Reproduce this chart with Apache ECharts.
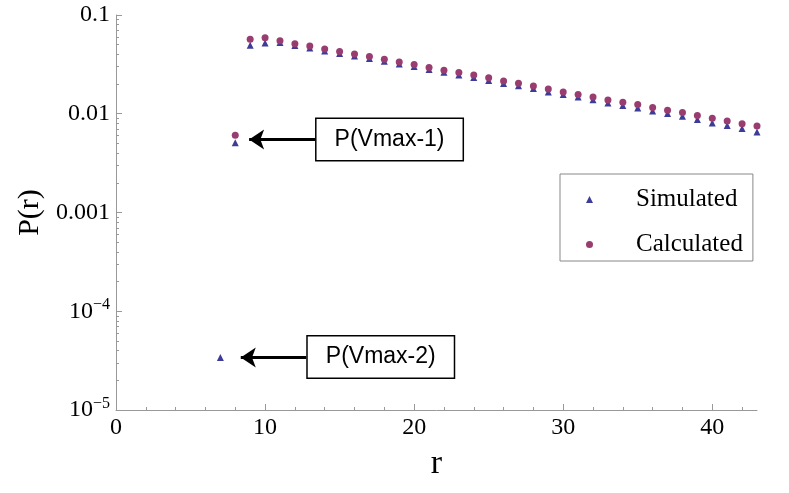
<!DOCTYPE html>
<html>
<head>
<meta charset="utf-8">
<script src="https://cdn.jsdelivr.net/npm/echarts@6/dist/echarts.min.js"></script>
<style>
  html, body { margin: 0; padding: 0; background: #fff; }
  #chart { width: 789px; height: 493px; }
</style>
</head>
<body>
<div id="chart"></div>
<script>
// r values for each series
const rSimulated = [7, 8, 9, 10, 11, 12, 13, 14, 15, 16, 17, 18, 19, 20, 21, 22, 23, 24, 25,
  26, 27, 28, 29, 30, 31, 32, 33, 34, 35, 36, 37, 38, 39, 40, 41, 42, 43];
const simulated = [3.4e-5, 0.0051, 0.0493, 0.0522, 0.0526, 0.049, 0.0464, 0.0432, 0.0407, 0.0385,
  0.0362, 0.034, 0.0319, 0.0301, 0.028, 0.0263, 0.0247, 0.0233, 0.0217, 0.0203, 0.0192, 0.018,
  0.0166, 0.0157, 0.0148, 0.0139, 0.01285, 0.0121, 0.01146, 0.01067, 0.01005, 0.00944, 0.00873,
  0.00807, 0.0076, 0.00708, 0.00654];

const rCalculated = [8, 9, 10, 11, 12, 13, 14, 15, 16, 17, 18, 19, 20, 21, 22, 23, 24, 25,
  26, 27, 28, 29, 30, 31, 32, 33, 34, 35, 36, 37, 38, 39, 40, 41, 42, 43];
const calculated = [0.00605, 0.0568, 0.059, 0.055, 0.0513, 0.0486, 0.0453, 0.0426, 0.0403, 0.0379,
  0.0356, 0.0334, 0.0315, 0.0294, 0.0275, 0.0261, 0.0247, 0.0231, 0.0215, 0.0204, 0.0191, 0.0178,
  0.0166, 0.0157, 0.0148, 0.0138, 0.0131, 0.0124, 0.01156, 0.01085, 0.0103, 0.0096, 0.009,
  0.00846, 0.00794, 0.00753];

// ticks
const xMajorTicks = [0, 10, 20, 30, 40];
const xMinorTicks = [2, 4, 6, 8, 12, 14, 16, 18, 22, 24, 26, 28, 32, 34, 36, 38, 42];
const yMajorTicks = [1e-5, 1e-4, 1e-3, 1e-2, 1e-1];
const yTickLabels = ['10{sup|−5}', '10{sup|−4}', '0.001', '0.01', '0.1'];
const yMinorTicks = [];
[1e-5, 1e-4, 1e-3, 1e-2].forEach(d => { for (let k = 2; k <= 9; k++) yMinorTicks.push(k * d); });

// annotations: label, box centre, arrow start, arrow tip (data coords)
const annotLabels = ['P(Vmax-1)', 'P(Vmax-2)'];
const annotBox = [[18.35, 0.00548], [17.76, 3.45e-5]];
const annotArrowFrom = [[13.36, 0.00548], [12.76, 3.40e-5]];
const annotArrowTo = [[8.93, 0.00548], [8.37, 3.40e-5]];

const serif = 'Liberation Serif';
const sans = 'Liberation Sans';
const axisGray = '#999';

const chart = echarts.init(document.getElementById('chart'));

const labelIdx = v => {
  const e = Math.round(Math.log10(v));
  return yTickLabels[e + 5];
};

chart.setOption({
  animation: false,
  grid: { left: 116, top: 15, width: 641, height: 395, containLabel: false },
  legend: {
    data: ['Simulated', 'Calculated'],
    orient: 'vertical',
    left: 560, top: 174,
    padding: [11, 10, 2, 26],
    borderColor: '#888', borderWidth: 1,
    itemWidth: 7, itemHeight: 7, itemGap: 16,
    textStyle: { fontFamily: serif, fontSize: 25, color: '#000', lineHeight: 29, padding: [0, 0, 0, 38] }
  },
  xAxis: [
    {
      type: 'value', min: 0, max: 43, position: 'bottom',
      name: 'r', nameLocation: 'middle', nameGap: 37,
      nameTextStyle: { fontFamily: serif, fontSize: 34, color: '#000' },
      axisLine: { onZero: false, lineStyle: { color: axisGray, width: 1 } },
      axisTick: { inside: true, length: 6, customValues: xMajorTicks, lineStyle: { color: axisGray } },
      axisLabel: { customValues: xMajorTicks, margin: 6, fontFamily: serif, fontSize: 24, color: '#000' },
      splitLine: { show: false }
    },
    {
      type: 'value', min: 0, max: 43, position: 'bottom',
      axisLine: { show: false, onZero: false },
      axisTick: { inside: true, length: 3, customValues: xMinorTicks, lineStyle: { color: axisGray } },
      axisLabel: { show: false },
      splitLine: { show: false }
    }
  ],
  yAxis: [
    {
      type: 'log', logBase: 10, min: 1e-5, max: 0.1, position: 'left',
      name: 'P(r)', nameLocation: 'middle', nameGap: 71, nameRotate: 90,
      nameTextStyle: { fontFamily: serif, fontSize: 30, color: '#000' },
      axisLine: { show: true, onZero: false, lineStyle: { color: axisGray, width: 1 } },
      axisTick: { show: true, inside: true, length: 6, customValues: yMajorTicks, lineStyle: { color: axisGray } },
      axisLabel: {
        customValues: yMajorTicks, margin: 6, fontFamily: serif, fontSize: 24, color: '#000',
        formatter: labelIdx,
        rich: { sup: { fontFamily: serif, fontSize: 16, color: '#000', padding: [0, 0, 12, 0] } }
      },
      splitLine: { show: false }
    },
    {
      type: 'log', logBase: 10, min: 1e-5, max: 0.1, position: 'left',
      axisLine: { show: false, onZero: false },
      axisTick: { show: true, inside: true, length: 3, customValues: yMinorTicks, lineStyle: { color: axisGray } },
      axisLabel: { show: false },
      splitLine: { show: false }
    }
  ],
  series: [
    {
      name: 'Simulated', type: 'scatter', symbol: 'triangle', symbolSize: 7,
      itemStyle: { color: '#3D3D99', opacity: 1 },
      data: rSimulated.map((r, i) => [r, simulated[i]]),
      markLine: {
        silent: true, animation: false,
        symbol: ['none', 'arrow'], symbolSize: 15,
        lineStyle: { color: '#000', width: 3, type: 'solid' },
        label: { show: false },
        data: annotArrowFrom.map((p, i) => [{ coord: p }, { coord: annotArrowTo[i] }])
      },
      markPoint: {
        silent: true, animation: false,
        symbol: 'circle', symbolSize: 1,
        itemStyle: { color: 'rgba(0,0,0,0)' },
        label: {
          show: true, position: 'inside', fontFamily: sans, fontSize: 23, color: '#000',
          width: 146, height: 41, lineHeight: 41, align: 'center', verticalAlign: 'middle',
          backgroundColor: '#fff', borderColor: '#000', borderWidth: 1.5,
          formatter: p => p.name
        },
        data: annotBox.map((p, i) => ({ name: annotLabels[i], coord: p }))
      }
    },
    {
      name: 'Calculated', type: 'scatter', symbol: 'circle', symbolSize: 7,
      itemStyle: { color: '#993D71', opacity: 1 },
      data: rCalculated.map((r, i) => [r, calculated[i]])
    }
  ]
});
</script>
</body>
</html>
